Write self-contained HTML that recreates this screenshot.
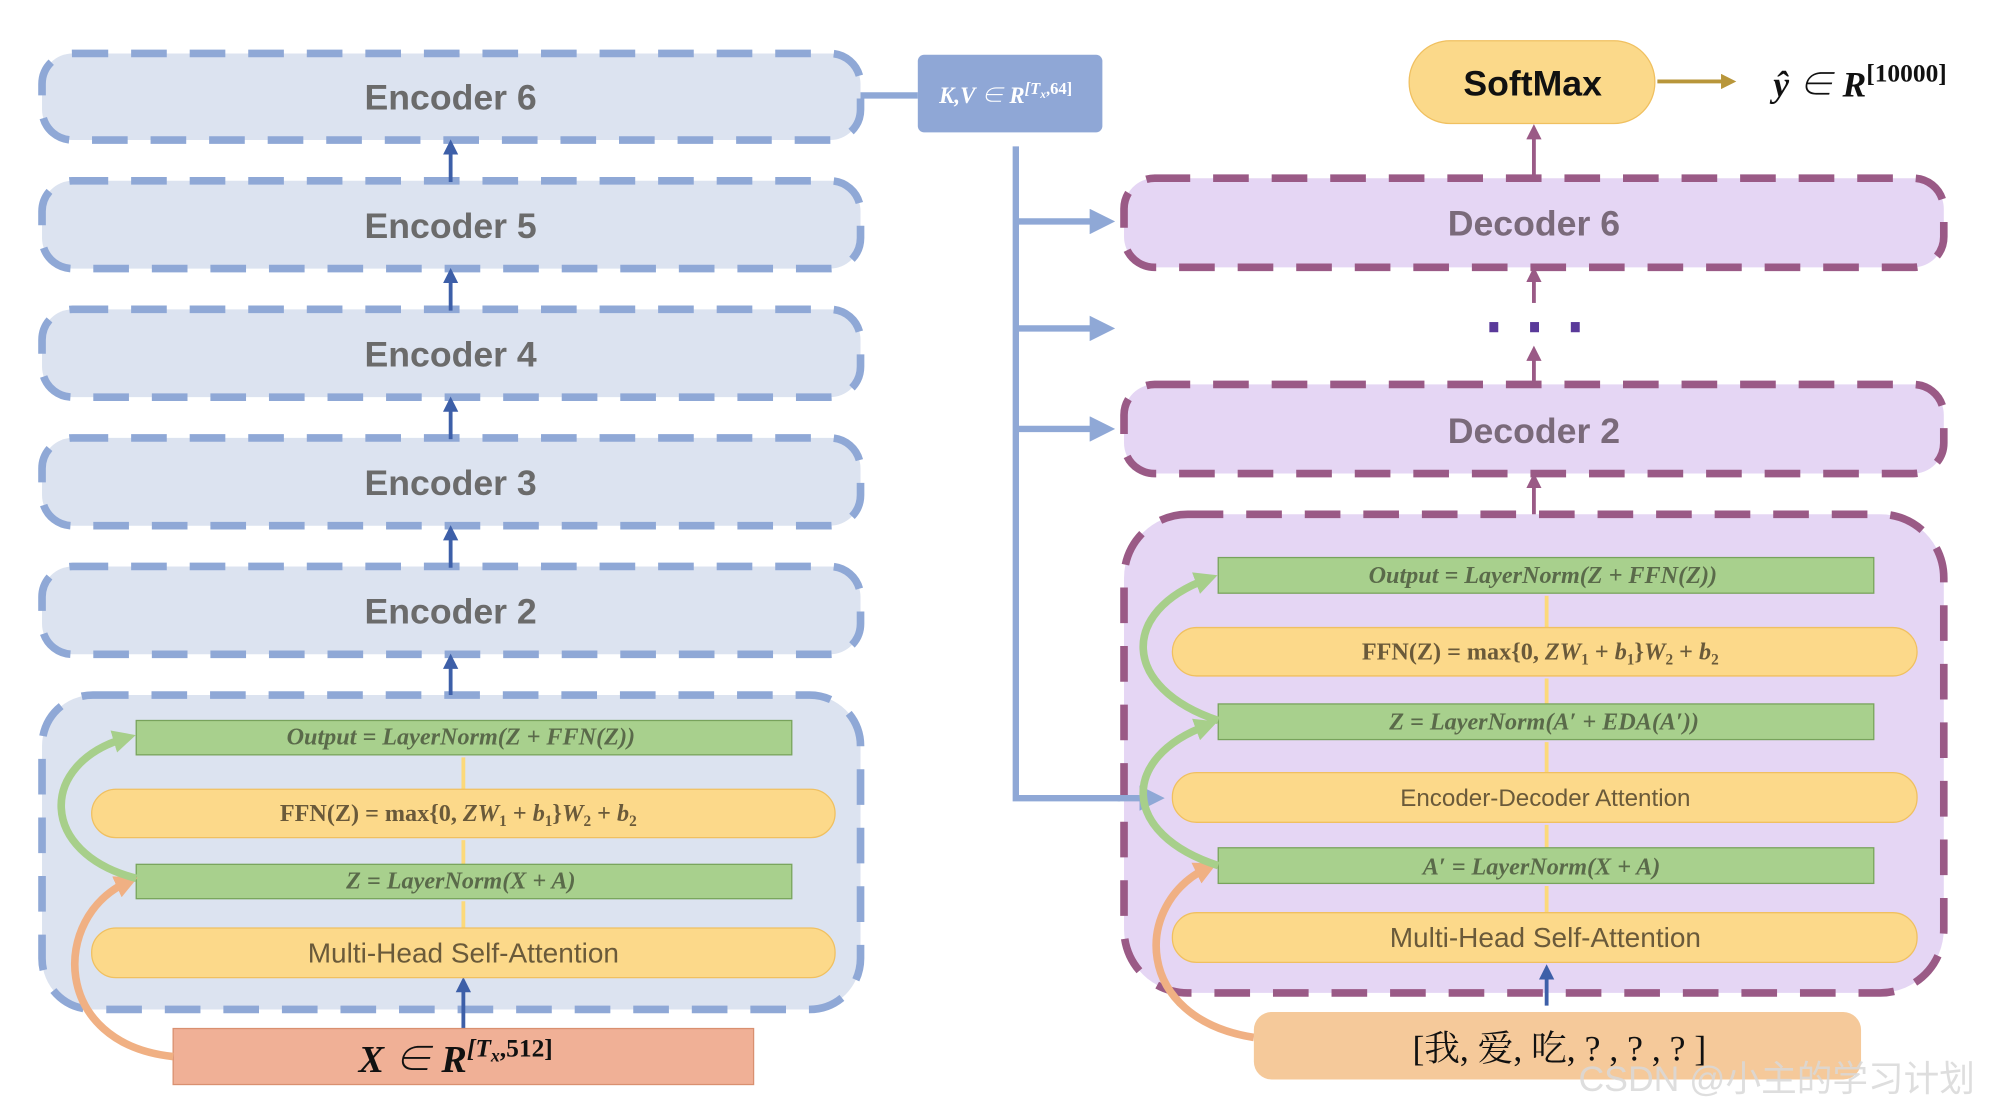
<!DOCTYPE html>
<html><head><meta charset="utf-8"><style>
html,body{margin:0;padding:0;background:#fff;}
svg{display:block;}
text{font-family:"Liberation Sans","Noto Sans CJK SC",sans-serif;}
.m{font-family:"Liberation Serif","Noto Serif CJK SC",serif;font-style:italic;font-weight:bold;}
</style></head><body>
<svg width="1996" height="1110" viewBox="0 0 1568 872" xmlns="http://www.w3.org/2000/svg">
<defs>
<marker id="ab" markerWidth="4" markerHeight="4" refX="2.5" refY="2" orient="auto" markerUnits="strokeWidth"><path d="M0,0 L4,2 L0,4 z" fill="#3d5fa8"/></marker>
<marker id="al" markerWidth="4" markerHeight="4" refX="2" refY="2" orient="auto" markerUnits="strokeWidth"><path d="M0,0 L4,2 L0,4 z" fill="#8fa8d6"/></marker>
<marker id="ap" markerWidth="4" markerHeight="4" refX="2.5" refY="2" orient="auto" markerUnits="strokeWidth"><path d="M0,0 L4,2 L0,4 z" fill="#9a5a86"/></marker>
<marker id="ag" markerWidth="3" markerHeight="3" refX="1.5" refY="1.5" orient="auto" markerUnits="strokeWidth"><path d="M0,0 L3,1.5 L0,3 z" fill="#a7cf8a"/></marker>
<marker id="ao" markerWidth="3" markerHeight="3" refX="1.5" refY="1.5" orient="auto" markerUnits="strokeWidth"><path d="M0,0 L3,1.5 L0,3 z" fill="#f0b083"/></marker>
<marker id="ay" markerWidth="4" markerHeight="4" refX="2" refY="2" orient="auto" markerUnits="strokeWidth"><path d="M0,0 L4,2 L0,4 z" fill="#b8963a"/></marker>
</defs>

<!-- Encoder stack -->
<g fill="#dce3f0" stroke="#8fa8d6" stroke-width="6" stroke-dasharray="28 18">
<rect x="33" y="42" width="643" height="68" rx="24"/>
<rect x="33" y="142" width="643" height="69" rx="24"/>
<rect x="33" y="243" width="643" height="69" rx="24"/>
<rect x="33" y="344" width="643" height="69" rx="24"/>
<rect x="33" y="445" width="643" height="69" rx="24"/>
<rect x="33" y="546" width="643" height="247" rx="40"/>
</g>
<g font-size="28" fill="#6b6b6b" text-anchor="middle" font-weight="bold">
<text x="354" y="86">Encoder 6</text>
<text x="354" y="187">Encoder 5</text>
<text x="354" y="288">Encoder 4</text>
<text x="354" y="389">Encoder 3</text>
<text x="354" y="490">Encoder 2</text>
</g>
<g stroke="#3d5fa8" stroke-width="3" marker-end="url(#ab)">
<line x1="354" y1="143" x2="354" y2="114"/>
<line x1="354" y1="244" x2="354" y2="215"/>
<line x1="354" y1="345" x2="354" y2="316"/>
<line x1="354" y1="446" x2="354" y2="417"/>
<line x1="354" y1="546" x2="354" y2="518"/>
<line x1="364" y1="808" x2="364" y2="772"/>
</g>
<g stroke="#fcd97a" stroke-width="3">
<line x1="364" y1="729" x2="364" y2="708"/><line x1="364" y1="679" x2="364" y2="660"/><line x1="364" y1="620" x2="364" y2="595"/>
</g>
<rect x="107" y="566" width="515" height="27" fill="#a8d08d" stroke="#78a35c"/>
<rect x="72" y="620" width="584" height="38" rx="19" fill="#fcd98a" stroke="#f0c060"/>
<rect x="107" y="679" width="515" height="27" fill="#a8d08d" stroke="#78a35c"/>
<rect x="72" y="729" width="584" height="39" rx="19" fill="#fcd98a" stroke="#f0c060"/>
<text x="362" y="585" class="m" font-size="19" fill="#5a6a4a" text-anchor="middle">Output = LayerNorm(Z + FFN(Z))</text>
<text x="360" y="645" style="font-family:'Liberation Serif',serif" font-weight="bold" font-size="19" fill="#6a5a3a" text-anchor="middle">FFN(Z) = max{0, <tspan font-style="italic">ZW</tspan><tspan font-size="12" dy="4">1</tspan><tspan dy="-4"> + </tspan><tspan font-style="italic">b</tspan><tspan font-size="12" dy="4">1</tspan><tspan dy="-4">}</tspan><tspan font-style="italic">W</tspan><tspan font-size="12" dy="4">2</tspan><tspan dy="-4"> + </tspan><tspan font-style="italic">b</tspan><tspan font-size="12" dy="4">2</tspan></text>
<text x="362" y="698" class="m" font-size="19" fill="#5a6a4a" text-anchor="middle">Z = LayerNorm(X + A)</text>
<text x="364" y="756" font-size="22" fill="#6a5a3a" text-anchor="middle">Multi-Head Self-Attention</text>
<rect x="136" y="808" width="456" height="44" fill="#f0b096" stroke="#d99070"/>
<text x="358" y="842" class="m" font-size="30" fill="#111" text-anchor="middle">X ∈ R<tspan font-size="20" dy="-12">[T</tspan><tspan font-size="14" dy="4">x</tspan><tspan font-size="20" dy="-4" font-style="normal">,512]</tspan></text>
<path d="M136,830 C40,820 40,720 100,693" fill="none" stroke="#f0b083" stroke-width="6" marker-end="url(#ao)"/>
<path d="M107,690 C30,670 30,600 98,580" fill="none" stroke="#a7cf8a" stroke-width="6" marker-end="url(#ag)"/>

<!-- KV box -->
<line x1="676" y1="75" x2="721" y2="75" stroke="#8fa8d6" stroke-width="5"/>
<rect x="721" y="43" width="145" height="61" rx="5" fill="#8fa7d6"/>
<text x="790" y="81" class="m" font-size="18" fill="#fff" text-anchor="middle">K,V ∈ R<tspan font-size="13" dy="-7">[T</tspan><tspan font-size="9" dy="3">x</tspan><tspan font-size="13" dy="-3" font-style="normal">,64]</tspan></text>
<g stroke="#8fa8d6" stroke-width="5" fill="none">
<polyline points="798,115 798,627 880,627"/>
<line x1="798" y1="174" x2="866" y2="174" marker-end="url(#al)"/>
<line x1="798" y1="258" x2="866" y2="258" marker-end="url(#al)"/>
<line x1="798" y1="337" x2="866" y2="337" marker-end="url(#al)"/>
</g>

<!-- Decoder -->
<rect x="1107" y="32" width="193" height="65" rx="32" fill="#fbd98a" stroke="#f0c060"/>
<text x="1204" y="75" font-size="28" font-weight="bold" fill="#111" text-anchor="middle">SoftMax</text>
<line x1="1302" y1="64" x2="1358" y2="64" stroke="#b8963a" stroke-width="3" marker-end="url(#ay)"/>
<text x="1393" y="76" class="m" font-size="28" fill="#111">ŷ ∈ R<tspan font-size="20" dy="-12" font-style="normal">[10000]</tspan></text>

<g fill="#e5d6f4" stroke="#9a5a86" stroke-width="6" stroke-dasharray="28 18">
<rect x="883" y="140" width="644" height="70" rx="24"/>
<rect x="883" y="302" width="644" height="70" rx="24"/>
<rect x="883" y="404" width="644" height="376" rx="50"/>
</g>
<line x1="878" y1="627" x2="905" y2="627" stroke="#8fa8d6" stroke-width="5" marker-end="url(#al)"/>
<g font-size="28" fill="#7a6a7a" text-anchor="middle" font-weight="bold">
<text x="1205" y="185">Decoder 6</text>
<text x="1205" y="348">Decoder 2</text>
</g>
<g stroke="#9a5a86" stroke-width="3" marker-end="url(#ap)">
<line x1="1205" y1="140" x2="1205" y2="102"/>
<line x1="1205" y1="238" x2="1205" y2="214"/>
<line x1="1205" y1="302" x2="1205" y2="276"/>
<line x1="1205" y1="404" x2="1205" y2="376"/>
</g>
<g fill="#5a3a9a"><rect x="1170" y="253" width="7" height="8"/><rect x="1202" y="253" width="7" height="8"/><rect x="1234" y="253" width="7" height="8"/></g>

<g stroke="#fcd97a" stroke-width="3">
<line x1="1215" y1="717" x2="1215" y2="696"/><line x1="1215" y1="666" x2="1215" y2="648"/><line x1="1215" y1="607" x2="1215" y2="583"/><line x1="1215" y1="553" x2="1215" y2="533"/><line x1="1215" y1="493" x2="1215" y2="468"/>
</g>
<rect x="957" y="438" width="515" height="28" fill="#a8d08d" stroke="#78a35c"/>
<rect x="921" y="493" width="585" height="38" rx="19" fill="#fcd98a" stroke="#f0c060"/>
<rect x="957" y="553" width="515" height="28" fill="#a8d08d" stroke="#78a35c"/>
<rect x="921" y="607" width="585" height="39" rx="19" fill="#fcd98a" stroke="#f0c060"/>
<rect x="957" y="666" width="515" height="28" fill="#a8d08d" stroke="#78a35c"/>
<rect x="921" y="717" width="585" height="39" rx="19" fill="#fcd98a" stroke="#f0c060"/>
<text x="1212" y="458" class="m" font-size="19" fill="#5a6a4a" text-anchor="middle">Output = LayerNorm(Z + FFN(Z))</text>
<text x="1210" y="518" style="font-family:'Liberation Serif',serif" font-weight="bold" font-size="19" fill="#6a5a3a" text-anchor="middle">FFN(Z) = max{0, <tspan font-style="italic">ZW</tspan><tspan font-size="12" dy="4">1</tspan><tspan dy="-4"> + </tspan><tspan font-style="italic">b</tspan><tspan font-size="12" dy="4">1</tspan><tspan dy="-4">}</tspan><tspan font-style="italic">W</tspan><tspan font-size="12" dy="4">2</tspan><tspan dy="-4"> + </tspan><tspan font-style="italic">b</tspan><tspan font-size="12" dy="4">2</tspan></text>
<text x="1213" y="573" class="m" font-size="19" fill="#5a6a4a" text-anchor="middle">Z = LayerNorm(A′ + EDA(A′))</text>
<text x="1214" y="633" font-size="19" fill="#6a5a3a" text-anchor="middle">Encoder-Decoder Attention</text>
<text x="1211" y="687" class="m" font-size="19" fill="#5a6a4a" text-anchor="middle">A′ = LayerNorm(X + A)</text>
<text x="1214" y="744" font-size="22" fill="#6a5a3a" text-anchor="middle">Multi-Head Self-Attention</text>
<line x1="1215" y1="790" x2="1215" y2="762" stroke="#3d5fa8" stroke-width="3" marker-end="url(#ab)"/>

<path d="M985,815 C890,800 890,710 948,682" fill="none" stroke="#f0b083" stroke-width="6" marker-end="url(#ao)"/>
<path d="M957,680 C880,655 880,595 948,570" fill="none" stroke="#a7cf8a" stroke-width="6" marker-end="url(#ag)"/>
<path d="M957,566 C880,540 880,480 948,455" fill="none" stroke="#a7cf8a" stroke-width="6" marker-end="url(#ag)"/>

<rect x="985" y="795" width="477" height="53" rx="14" fill="#f5c99a"/>
<text x="1225" y="833" font-size="28" fill="#111" text-anchor="middle" style="font-family:'Liberation Serif','Noto Serif CJK SC',serif">[我, 爱, 吃, ? , ? , ? ]</text>
<text x="1240" y="857" font-size="28" fill="#d8d8d8" fill-opacity="0.85">CSDN @小主的学习计划</text>
</svg>
</body></html>
